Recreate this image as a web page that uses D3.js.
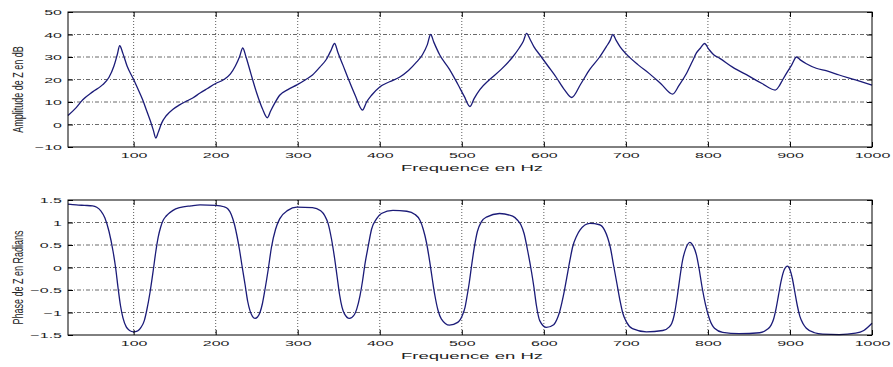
<!DOCTYPE html>
<html>
<head>
<meta charset="utf-8">
<script src="https://cdn.jsdelivr.net/npm/d3@7"></script>
<style>
  body { margin: 0; background: #fff; }
  svg { display: block; }
</style>
</head>
<body>
<div id="chart"></div>
<script>
    // amplitude of Z (dB)
    var ampFreq = [20, 30, 38, 50, 62, 70, 76, 80, 83, 87, 92, 100, 105, 111, 116, 120, 124, 127, 130, 134, 140, 148, 156, 165, 172, 181, 190, 200, 210, 218, 224, 229, 233, 237, 243, 250, 257, 263, 267, 272, 278, 288, 299, 310, 318, 327, 335, 340, 345, 349, 355, 362, 370, 379, 384, 390, 400, 412, 424, 435, 445, 452, 458, 462, 466, 473, 485, 495, 503, 510, 515, 522, 534, 548, 562, 570, 575, 579, 583, 588, 595, 605, 615, 625, 634, 645, 656, 668, 676, 681, 684, 688, 693, 700, 715, 729, 743, 757, 765, 774, 781, 786, 791, 796, 801, 807, 814, 830, 850, 866, 882, 887, 891, 897, 902, 908, 913, 920, 932, 945, 960, 980, 1000];
    var ampDb = [4, 7.5, 11, 14.5, 17.6, 21, 26, 31, 35, 31.5, 26, 20, 16, 11, 6, 2, -2.5, -6, -3.5, 0.5, 4, 6.8, 8.7, 10.5, 11.8, 14, 16, 18.2, 20, 22.5, 26, 30, 34, 30, 22.5, 14, 7, 3, 6, 9.5, 13, 15.5, 17.6, 20, 22, 25.5, 29, 32.5, 36, 32, 26.5, 20, 13, 6.4, 10, 13, 16.7, 19, 21, 24, 27.8, 31, 35.5, 40, 36.5, 31, 24.5, 18, 12.5, 8, 11.5, 15.5, 20, 24.5, 30, 34, 37, 40.5, 38, 34.5, 31, 26, 21, 15.5, 12, 18, 24.5, 30, 34.5, 37.5, 40, 37.5, 34.5, 31.5, 26.5, 22.5, 18, 13.5, 17.5, 22.8, 28, 31.8, 34, 36, 33.5, 31, 29.5, 25.5, 21.5, 18.2, 15.3, 17.2, 19.8, 23.5, 26.4, 30, 28.6, 27, 25, 23.8, 22, 19.8, 17.5];

    // phase of Z (radians)
    var phaseFreq = [20, 30, 40, 50, 55, 60, 65, 70, 75, 78, 81, 84, 87, 91, 95, 100, 105, 109, 113, 116, 120, 124, 127, 130, 133, 136, 140, 148, 156, 170, 181, 200, 210, 215, 219, 223, 226, 229, 232, 236, 239, 242, 245, 248, 251, 254, 257, 260, 264, 268, 273, 278, 288, 299, 318, 328, 333, 337, 341, 345, 348, 351, 354, 357, 363, 369, 372, 376, 379, 382, 386, 390, 396, 402, 416, 433, 443, 449, 453, 457, 461, 464, 467, 471, 475, 485, 495, 501, 504, 506, 509, 512, 515, 519, 524, 530, 546, 562, 568, 572, 576, 580, 585, 588, 591, 595, 603, 612, 616, 619, 622, 625, 628, 632, 635, 640, 644, 656, 668, 674, 678, 681, 685, 689, 693, 696, 701, 708, 725, 745, 753, 756, 759, 763, 766, 769, 773, 778, 782, 786, 789, 793, 797, 802, 808, 818, 838, 863, 872, 877, 880, 883, 886, 889, 893, 897, 900, 903, 906, 909, 912, 916, 920, 930, 940, 960, 980, 990, 1000];
    var phaseRad = [1.41, 1.39, 1.38, 1.37, 1.34, 1.26, 1.1, 0.8, 0.35, 0.0, -0.45, -0.85, -1.12, -1.32, -1.4, -1.43, -1.41, -1.33, -1.18, -0.95, -0.55, -0.05, 0.35, 0.68, 0.9, 1.05, 1.15, 1.27, 1.33, 1.37, 1.39, 1.38, 1.35, 1.3, 1.18, 0.95, 0.7, 0.4, 0.05, -0.4, -0.75, -0.97, -1.09, -1.13, -1.1, -1.0, -0.8, -0.5, -0.05, 0.45, 0.85, 1.08, 1.27, 1.34, 1.33, 1.26, 1.15, 0.98, 0.65, 0.2, -0.2, -0.6, -0.88, -1.03, -1.13, -1.05, -0.92, -0.62, -0.3, 0.08, 0.48, 0.85, 1.08, 1.2, 1.27, 1.25, 1.18, 1.05, 0.85, 0.55, 0.12, -0.25, -0.6, -0.95, -1.14, -1.28, -1.22, -1.05, -0.88, -0.68, -0.35, 0.05, 0.42, 0.8, 1.02, 1.12, 1.2, 1.14, 1.05, 0.95, 0.75, 0.4, -0.1, -0.45, -0.85, -1.18, -1.33, -1.27, -1.15, -1.0, -0.78, -0.52, -0.22, 0.18, 0.45, 0.7, 0.83, 0.98, 0.95, 0.83, 0.65, 0.45, 0.05, -0.35, -0.75, -1.0, -1.22, -1.36, -1.43, -1.4, -1.32, -1.24, -1.05, -0.6, -0.2, 0.15, 0.42, 0.56, 0.48, 0.28, 0.0, -0.45, -0.82, -1.15, -1.35, -1.44, -1.47, -1.45, -1.38, -1.28, -1.15, -0.92, -0.62, -0.32, -0.05, 0.03, -0.05, -0.25, -0.55, -0.85, -1.08, -1.25, -1.35, -1.45, -1.48, -1.49, -1.46, -1.4, -1.24];

    var freqTicks = [100, 200, 300, 400, 500, 600, 700, 800, 900, 1000];
    var ampTicks = [-10, 0, 10, 20, 30, 40, 50];
    var phaseTicks = [-1.5, -1, -0.5, 0, 0.5, 1, 1.5];

    var width = 893, height = 367;
    var left = 68, right = 872;

    var svg = d3.select("#chart")
      .append("svg")
      .attr("width", width)
      .attr("height", height);

    svg.append("rect")
      .attr("width", width)
      .attr("height", height)
      .attr("fill", "#fff");

    var x = d3.scaleLinear()
      .domain([20, 1000])
      .range([left, right]);

    // one subplot, matlab style: boxed, inward ticks, dash-dot grid
    function drawPanel(top, bottom, yDomain, yTicks, xs, ys, yTitle) {
      var y = d3.scaleLinear()
        .domain(yDomain)
        .range([bottom, top]);

      var g = svg.append("g");

      // grid
      g.selectAll(".vgrid")
        .data(freqTicks.filter(function (d) { return d < 1000; }))
        .enter().append("line")
        .attr("x1", function (d) { return x(d); })
        .attr("x2", function (d) { return x(d); })
        .attr("y1", top)
        .attr("y2", bottom)
        .attr("stroke", "#333")
        .attr("stroke-width", 0.8)
        .attr("stroke-dasharray", "1,2");

      g.selectAll(".hgrid")
        .data(yTicks.filter(function (d) { return d > yDomain[0] && d < yDomain[1]; }))
        .enter().append("line")
        .attr("x1", left)
        .attr("x2", right)
        .attr("y1", function (d) { return y(d); })
        .attr("y2", function (d) { return y(d); })
        .attr("stroke", "#444")
        .attr("stroke-width", 0.8)
        .attr("stroke-dasharray", "4,2,1,2");

      // the curve
      var line = d3.line()
        .x(function (d) { return x(d[0]); })
        .y(function (d) { return y(d[1]); })
        .curve(d3.curveMonotoneX);

      g.append("path")
        .datum(d3.zip(xs, ys))
        .attr("d", line)
        .attr("fill", "none")
        .attr("stroke", "#1b1b78")
        .attr("stroke-width", 1.3);

      // axes
      var xAxis = g.append("g")
        .attr("transform", "translate(0," + bottom + ")")
        .call(d3.axisBottom(x).tickValues(freqTicks).tickSizeInner(-5).tickSizeOuter(0).tickPadding(5).tickFormat(d3.format("d")));
      g.append("g")
        .attr("transform", "translate(0," + top + ")")
        .call(d3.axisTop(x).tickValues(freqTicks).tickSizeInner(-5).tickSizeOuter(0).tickFormat(""));
      var yAxis = g.append("g")
        .attr("transform", "translate(" + left + ",0)")
        .call(d3.axisLeft(y).tickValues(yTicks).tickSizeInner(-5).tickSizeOuter(0).tickPadding(6).tickFormat(d3.format("")));
      g.append("g")
        .attr("transform", "translate(" + right + ",0)")
        .call(d3.axisRight(y).tickValues(yTicks).tickSizeInner(-5).tickSizeOuter(0).tickFormat(""));

      g.selectAll(".domain").remove();
      g.selectAll(".tick line").attr("stroke", "#000");

      xAxis.selectAll("text")
        .attr("font-family", "Liberation Sans, Arial, sans-serif")
        .attr("font-size", 8)
        .attr("fill", "#222")
        .attr("transform", "scale(2,1)");
      yAxis.selectAll("text")
        .attr("font-family", "Liberation Sans, Arial, sans-serif")
        .attr("font-size", 8)
        .attr("fill", "#222")
        .attr("x", -3)
        .attr("transform", "scale(2,1)");

      // frame
      g.append("rect")
        .attr("x", left)
        .attr("y", top)
        .attr("width", right - left)
        .attr("height", bottom - top)
        .attr("fill", "none")
        .attr("stroke", "#000")
        .attr("stroke-width", 1);

      // x title
      g.append("text")
        .attr("transform", "translate(472," + (bottom + 24) + ") scale(1.95,1)")
        .attr("text-anchor", "middle")
        .attr("font-family", "Liberation Sans, Arial, sans-serif")
        .attr("font-size", 9.5)
        .attr("fill", "#222")
        .text("Frequence en Hz");

      // y title
      g.append("text")
        .attr("transform", "translate(23," + ((top + bottom) / 2 + 10) + ") rotate(-90) scale(1,1.6)")
        .attr("text-anchor", "middle")
        .attr("font-family", "Liberation Sans, Arial, sans-serif")
        .attr("font-size", 9)
        .attr("fill", "#222")
        .text(yTitle);
    }

    drawPanel(12, 147, [-10, 50], ampTicks, ampFreq, ampDb, "Amplitude de Z en dB");
    drawPanel(200, 335, [-1.5, 1.5], phaseTicks, phaseFreq, phaseRad, "Phase de Z en Radians");
</script>
</body>
</html>
